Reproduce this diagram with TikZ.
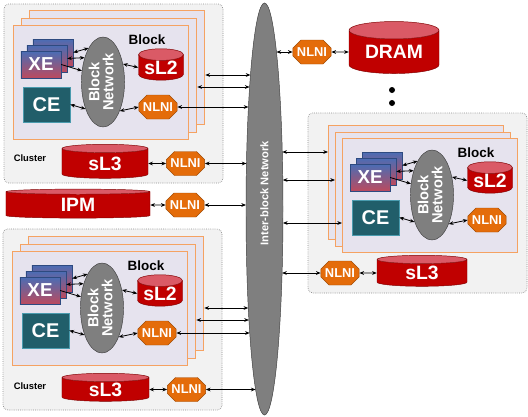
\documentclass[tikz,border=0pt]{standalone}
\usepackage{fontspec}
\setmainfont{Liberation Sans}
\usepackage{graphicx}
\usetikzlibrary{shapes.geometric, shapes.misc, arrows.meta}

\definecolor{clusterfill}{HTML}{F2F2F2}
\definecolor{clusteredge}{HTML}{8C8C8C}
\definecolor{blockfill}{HTML}{E6E3EE}
\definecolor{blockedge}{HTML}{F5A262}
\definecolor{memred}{HTML}{C00000}
\definecolor{memtop}{HTML}{DA5A66}
\definecolor{memedge}{HTML}{7F0000}
\definecolor{nlnifill}{HTML}{E46C0A}
\definecolor{nlniedge}{HTML}{A04800}
\definecolor{netgray}{HTML}{7F7F7F}
\definecolor{netedge}{HTML}{3F3F3F}
\definecolor{cefill}{HTML}{215E6A}
\definecolor{ceedge}{HTML}{4A9BAE}
\definecolor{xeblue}{HTML}{4A6DB5}
\definecolor{xered}{HTML}{BC4A5E}
\definecolor{xeedge}{HTML}{2E4A80}

\tikzset{
  cluster/.style={draw=clusteredge, densely dotted, fill=clusterfill, rounded corners=4pt, line width=0.6pt},
  clusterlabel/.style={font=\bfseries\fontsize{8}{9}\selectfont},
  blockcard/.style={rectangle, draw=blockedge, fill=blockfill, line width=1.1pt, minimum width=5.25cm, minimum height=3.42cm, anchor=north west},
  blocklabel/.style={font=\bfseries\fontsize{11.5}{13}\selectfont},
  xecard/.style={rectangle, draw=xeedge, top color=xeblue, bottom color=xered, minimum width=1.2cm, minimum height=0.81cm, inner sep=0pt, text=white, font=\bfseries\fontsize{16}{18}\selectfont},
  cebox/.style={rectangle, draw=ceedge, fill=cefill, minimum width=1.41cm, minimum height=1.05cm, inner sep=0pt, text=white, font=\bfseries\fontsize{17}{19}\selectfont},
  blocknet/.style={ellipse, draw=netedge, fill=netgray, minimum width=1.02cm, minimum height=2.7cm, inner sep=0pt, text=white, font=\bfseries\fontsize{12.5}{14}\selectfont},
  ibnet/.style={ellipse, draw=netedge, fill=netgray, minimum width=1.11cm, minimum height=12.36cm, inner sep=0pt, text=white, font=\bfseries\fontsize{9.5}{10}\selectfont},
  memcyl/.style={cylinder, shape border rotate=90, draw=memedge, cylinder uses custom fill, cylinder body fill=memred, cylinder end fill=memtop, text=white, inner sep=0pt, font=\bfseries\fontsize{16.5}{18}\selectfont},
  nlni/.style={chamfered rectangle, chamfered rectangle sep=3.5pt, draw=nlniedge, fill=nlnifill, minimum width=1.08cm, minimum height=0.72cm, inner sep=0pt, text=white, font=\bfseries\fontsize{11}{12}\selectfont},
  conn/.style={<->, >={Stealth[length=4pt, width=3.2pt]}, line width=0.7pt},
}

% one stack of blocks: #1 prefix, (#2,#3) shift of each card behind
\newcommand{\blocktikz}[3]{
    \foreach \k in {2,1} {
      \node[blockcard] (#1card\k) at ({#2*\k},{#3*\k}) {};
    }
    \node[blockcard] (#1card0) at (0,0) {};
    \node[blocklabel] (#1lbl) at (134,15) {Block};
    \foreach \k in {2,1} {
      \node[xecard] (#1xe\k) at ({28+6*\k},{39.5-6*\k}) {};
    }
    \node[xecard] (#1xe0) at (28,39.5) {XE};
    \node[cebox] (#1ce) at (33.5,79.5) {CE};
    \node[blocknet] (#1bn) at (90,57) {\rotatebox{90}{\begin{tabular}{@{}c@{}}Block\\[-2pt]Network\end{tabular}}};
    \node[memcyl, minimum width=1.35cm, minimum height=0.9cm, aspect=0.35] (#1sl2) at (148,42.5) {sL2};
    \node[nlni] (#1nlni) at (145,82) {NLNI};
    \draw[conn] (#1xe2.east) -- (#1bn.113);
    \draw[conn] (#1xe1.east) -- (#1bn.127);
    \draw[conn, ->] (#1xe0.east) -- (#1bn.152);
    \draw[conn] (#1ce.east) -- (#1bn.237);
    \draw[conn] (#1bn.42) -- (#1sl2.west);
    \draw[conn] (#1bn.-60) -- (#1nlni.west);
}

\begin{document}
\begin{tikzpicture}[x=0.03cm, y=-0.03cm]
\useasboundingbox (0,0) rectangle (528,417);
% clusters {{{
\draw[cluster] (4,4) rectangle (223,183);
\draw[cluster] (3,229) rectangle (222,410);
\draw[cluster] (308,113) rectangle (527,293);
% }}}
\begin{scope}[shift={(13,25)}] % top cluster {{{
\blocktikz{tl}{8}{-7.5}
\end{scope}
\node[clusterlabel] (tlclabel) at (30,158) {Cluster};
\node[memcyl, minimum width=2.58cm, minimum height=1.02cm, aspect=0.25] (tlsl3) at (105,163.5) {sL3};
\node[nlni] (tlcnlni) at (185.5,163.5) {NLNI};
\draw[conn] (tlsl3.east) -- (tlcnlni.west);
% }}}
% IPM {{{
\node[memcyl, minimum width=4.32cm, minimum height=0.87cm, aspect=0.15] (ipm) at (78,205) {IPM};
\node[nlni] (ipmnlni) at (185,205) {NLNI};
\draw[conn] (ipm.east) -- (ipmnlni.west);
% }}}
\begin{scope}[shift={(12,251)}] % bottom cluster {{{
\blocktikz{bl}{8}{-7.5}
\end{scope}
\node[clusterlabel] (blclabel) at (30,386) {Cluster};
\node[memcyl, minimum width=2.61cm, minimum height=0.84cm, aspect=0.25] (blsl3) at (105.5,389.5) {sL3};
\node[nlni] (blcnlni) at (186.5,389.5) {NLNI};
\draw[conn] (blsl3.east) -- (blcnlni.west);
% }}}
\begin{scope}[shift={(342,138)}] % right cluster {{{
\blocktikz{rt}{-7}{-6.5}
\end{scope}
\node[nlni] (rtcnlni) at (340,273) {NLNI};
\node[memcyl, minimum width=2.7cm, minimum height=0.93cm, aspect=0.25] (rtsl3) at (422,273) {sL3};
\draw[conn] (rtcnlni.east) -- (rtsl3.west);
% }}}
% DRAM {{{
\node[nlni] (dramnlni) at (312,52) {NLNI};
\node[memcyl, minimum width=2.7cm, minimum height=1.56cm, aspect=0.3] (dram) at (394,52) {DRAM};
\draw[conn] (dramnlni.east) -- (dram.west);
\fill (392,90) circle (3);
\fill (392,103) circle (3);
% }}}
% inter-block network {{{
\node[ibnet] (ib) at (264.5,209) {\rotatebox{90}{\hspace*{27pt}Inter-block Network}};
\foreach \n/\yy in {1/75, 2/87, 3/107, 4/163.5, 5/205, 6/308, 7/320, 8/333, 9/389.5} {
  \coordinate (ibw\n) at ({264.5-18.5*sqrt(1-((\yy-209)/206)^2)},\yy);
}
\foreach \n/\yy in {1/52, 2/152, 3/180, 4/223, 5/273} {
  \coordinate (ibe\n) at ({264.5+18.5*sqrt(1-((\yy-209)/206)^2)},\yy);
}
\draw[conn] (tlcard2.east |- ibw1) -- (ibw1);
\draw[conn] (tlcard1.east |- ibw2) -- (ibw2);
\draw[conn] (tlnlni.east) -- (ibw3);
\draw[conn] (tlcnlni.east) -- (ibw4);
\draw[conn] (ipmnlni.east) -- (ibw5);
\draw[conn] (blcard2.east |- ibw6) -- (ibw6);
\draw[conn] (blcard1.east |- ibw7) -- (ibw7);
\draw[conn] (blnlni.east) -- (ibw8);
\draw[conn] (blcnlni.east) -- (ibw9);
\draw[conn] (ibe1) -- (dramnlni.west);
\draw[conn] (ibe2) -- (rtcard2.west |- ibe2);
\draw[conn] (ibe3) -- (rtcard1.west |- ibe3);
\draw[conn] (ibe4) -- (rtcard0.west |- ibe4);
\draw[conn] (ibe5) -- (rtcnlni.west);
% }}}
\end{tikzpicture}
\end{document}
